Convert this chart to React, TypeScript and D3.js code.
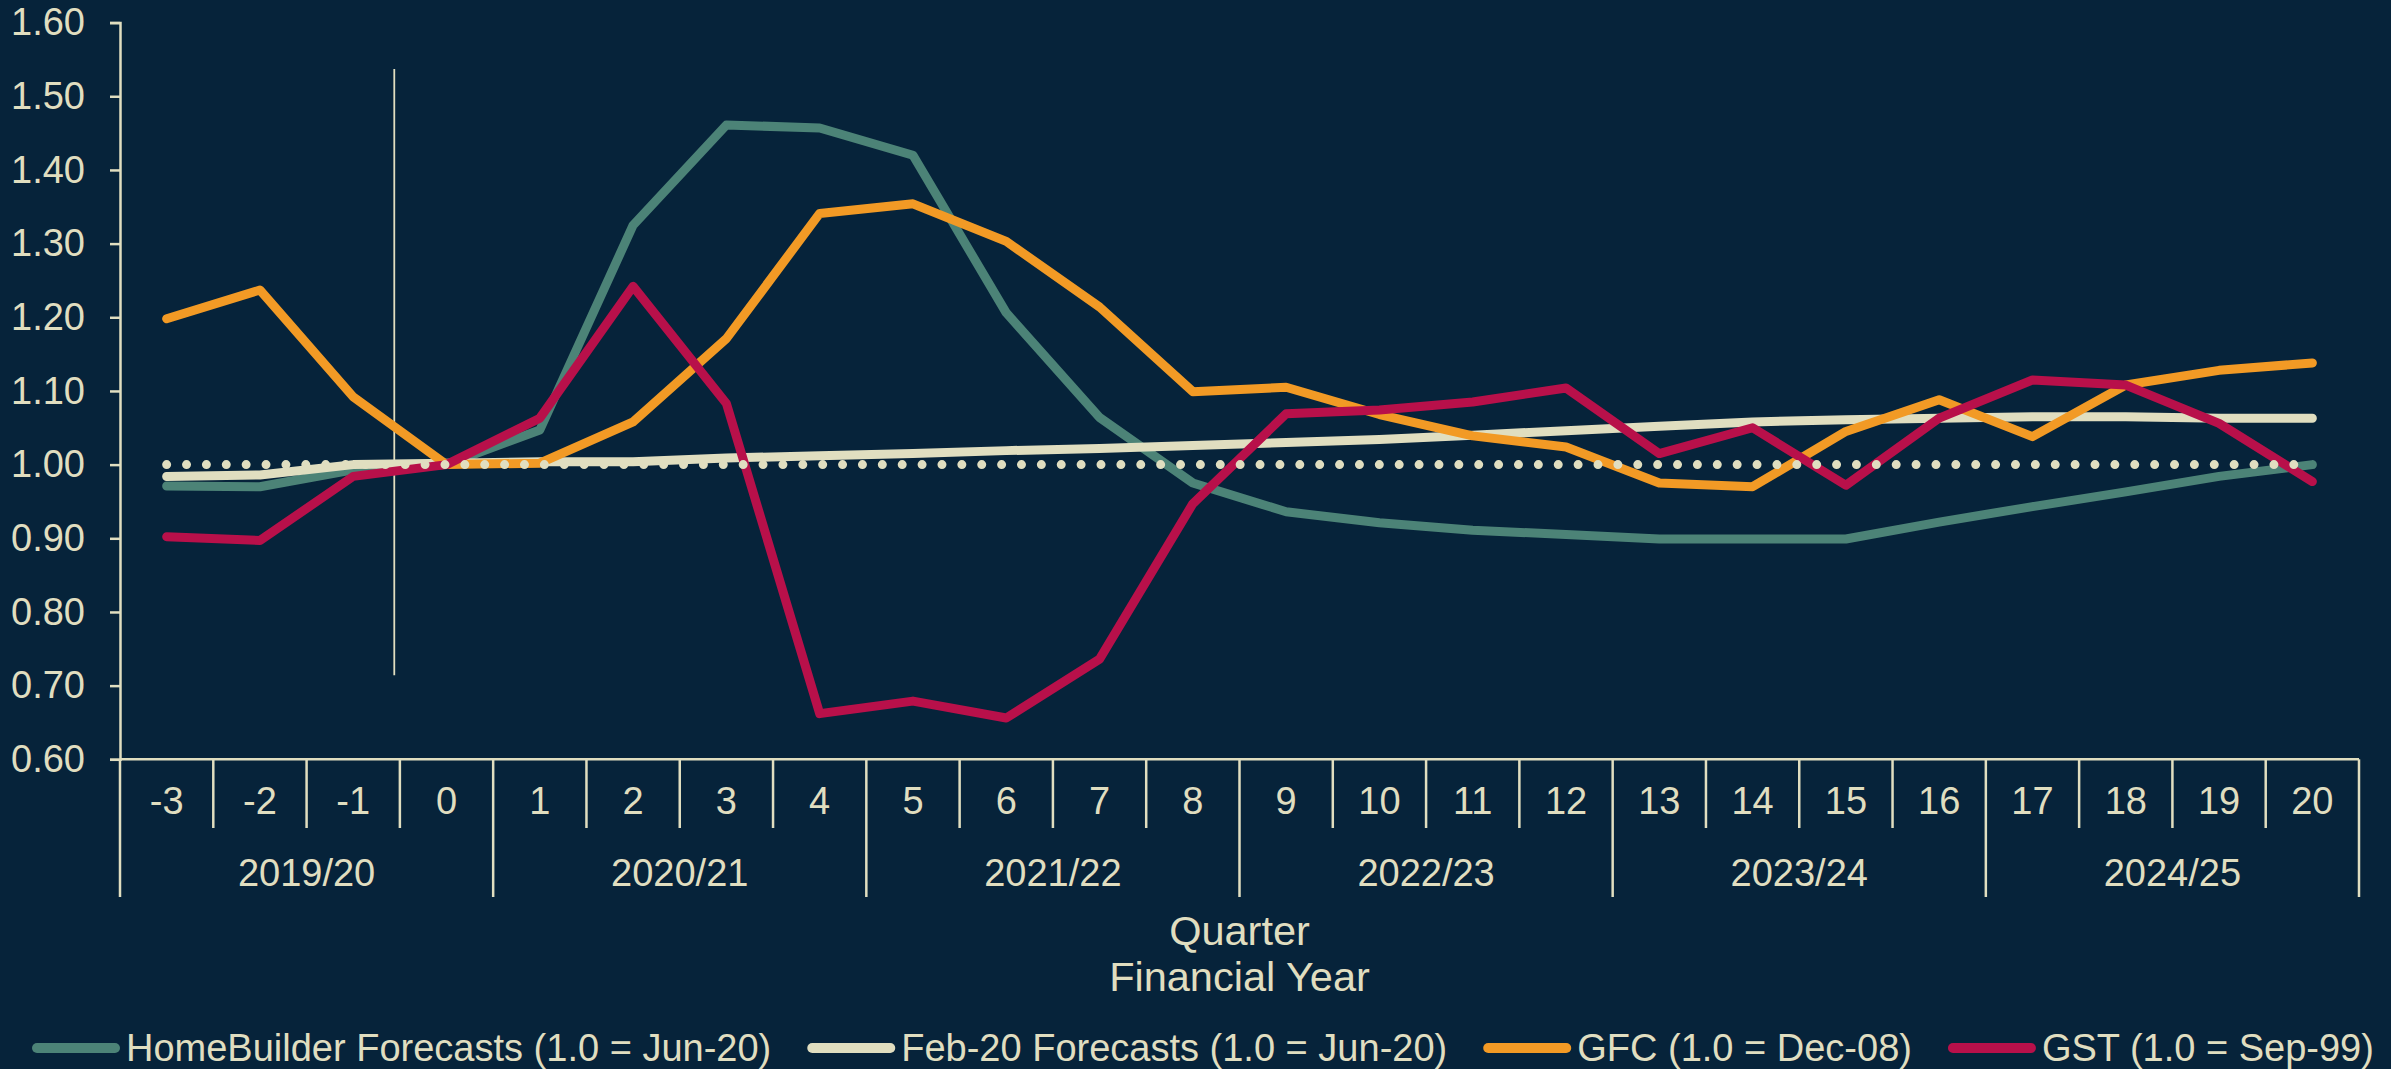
import React, { useRef, useEffect } from 'react';
import * as d3 from 'd3';

// quarter index relative to Jun-20 (0) and the financial years they fall in
const quarters = [-3, -2, -1, 0, 1, 2, 3, 4, 5, 6, 7, 8, 9, 10, 11, 12, 13, 14, 15, 16, 17, 18, 19, 20];
const financialYears = ['2019/20', '2020/21', '2021/22', '2022/23', '2023/24', '2024/25'];
const quartersPerYear = 4;

const yTicks = [0.6, 0.7, 0.8, 0.9, 1.0, 1.1, 1.2, 1.3, 1.4, 1.5, 1.6];

const homeBuilder = [0.971, 0.970, 0.993, 1.000, 1.047, 1.325, 1.461, 1.457, 1.420, 1.206, 1.064, 0.975, 0.936, 0.921, 0.911, 0.905, 0.899, 0.899, 0.899, 0.922, 0.943, 0.963, 0.984, 1.000];
const feb20 = [0.984, 0.986, 1.000, 1.002, 1.004, 1.004, 1.009, 1.012, 1.015, 1.019, 1.022, 1.026, 1.030, 1.034, 1.040, 1.046, 1.052, 1.058, 1.061, 1.063, 1.065, 1.065, 1.063, 1.063];
const gfc = [1.198, 1.237, 1.092, 1.000, 1.002, 1.058, 1.171, 1.341, 1.354, 1.303, 1.214, 1.099, 1.105, 1.068, 1.039, 1.024, 0.975, 0.970, 1.045, 1.088, 1.038, 1.108, 1.128, 1.138];
const gst = [0.902, 0.897, 0.984, 1.000, 1.063, 1.242, 1.083, 0.662, 0.679, 0.656, 0.736, 0.947, 1.069, 1.074, 1.085, 1.104, 1.015, 1.050, 0.972, 1.063, 1.115, 1.108, 1.056, 0.977];

const baseline = 1.0;
// thin vertical marker just before quarter 0
const markerQuarter = -0.56;
const markerRange = [0.714, 1.537];

const seriesNames = [
  'HomeBuilder Forecasts (1.0 = Jun-20)',
  'Feb-20 Forecasts (1.0 = Jun-20)',
  'GFC (1.0 = Dec-08)',
  'GST (1.0 = Sep-99)',
];
const seriesValues = [homeBuilder, feb20, gfc, gst];
const seriesColors = ['#4C8377', '#E0DEC0', '#F29A25', '#B8104A'];

const BG = '#06233A';
const INK = '#E0DEC0';
const FONT = '"Liberation Sans", Arial, sans-serif';

const App = () => {
  const svgRef = useRef<SVGSVGElement>(null);
  const width = 2391;
  const height = 1069;

  useEffect(() => {
    const svg = d3.select(svgRef.current).html('');

    svg.append('rect').attr('width', width).attr('height', height).attr('fill', BG);

    // --- Scales ---
    const x = d3.scaleBand<string>()
      .domain(quarters.map(String))
      .range([120, 2359])
      .padding(0);
    const cx = (q: number) => (x(String(q)) as number) + x.bandwidth() / 2;
    const y = d3.scaleLinear().domain([0.6, 1.6]).range([759.3, 22.6]);
    const plotBottom = y(0.6);

    // --- Y axis ---
    const yAxis = d3.axisLeft(y)
      .tickValues(yTicks)
      .tickSize(10)
      .tickPadding(25)
      .tickFormat(d3.format('.2f'));
    const gy = svg.append('g').attr('transform', 'translate(120,0)').call(yAxis);
    gy.select('.domain').attr('stroke', INK).attr('stroke-width', 2.5);
    gy.selectAll('.tick line').attr('stroke', INK).attr('stroke-width', 2.5);
    gy.selectAll('.tick text')
      .attr('fill', INK)
      .style('font-family', FONT)
      .style('font-size', '38px');

    // --- X axis (quarter + financial year) ---
    const gx = svg.append('g');
    gx.append('line')
      .attr('x1', x.range()[0]).attr('x2', x.range()[1])
      .attr('y1', plotBottom).attr('y2', plotBottom)
      .attr('stroke', INK).attr('stroke-width', 2.5);

    const bounds = d3.range(quarters.length + 1);
    gx.selectAll('line.sep')
      .data(bounds)
      .join('line')
      .attr('class', 'sep')
      .attr('x1', (i) => x.range()[0] + i * x.step())
      .attr('x2', (i) => x.range()[0] + i * x.step())
      .attr('y1', plotBottom)
      .attr('y2', (i) => (i % quartersPerYear === 0 ? 897 : 828))
      .attr('stroke', INK)
      .attr('stroke-width', 2.5);

    gx.selectAll('text.q')
      .data(quarters)
      .join('text')
      .attr('class', 'q')
      .attr('x', (q) => cx(q))
      .attr('y', 801)
      .attr('dy', '0.35em')
      .attr('text-anchor', 'middle')
      .attr('fill', INK)
      .style('font-family', FONT)
      .style('font-size', '38px')
      .text((q) => String(q));

    gx.selectAll('text.fy')
      .data(financialYears)
      .join('text')
      .attr('class', 'fy')
      .attr('x', (_, i) => x.range()[0] + (i + 0.5) * quartersPerYear * x.step())
      .attr('y', 873)
      .attr('dy', '0.35em')
      .attr('text-anchor', 'middle')
      .attr('fill', INK)
      .style('font-family', FONT)
      .style('font-size', '38px')
      .text((d) => d);

    const midX = (x.range()[0] + x.range()[1]) / 2;
    ['Quarter', 'Financial Year'].forEach((t, i) => {
      svg.append('text')
        .attr('x', midX)
        .attr('y', 930 + i * 46)
        .attr('dy', '0.35em')
        .attr('text-anchor', 'middle')
        .attr('fill', INK)
        .style('font-family', FONT)
        .style('font-size', '41.5px')
        .text(t);
    });

    // --- Vertical marker ---
    const markerX = cx(-1) + (markerQuarter - -1) * x.step();
    svg.append('line')
      .attr('x1', markerX).attr('x2', markerX)
      .attr('y1', y(markerRange[0])).attr('y2', y(markerRange[1]))
      .attr('stroke', INK)
      .attr('stroke-width', 1.8);

    // --- Lines ---
    const line = d3.line<number>()
      .x((_, i) => cx(quarters[i]))
      .y((d) => y(d));

    seriesValues.forEach((vals, i) => {
      svg.append('path')
        .datum(vals)
        .attr('fill', 'none')
        .attr('stroke', seriesColors[i])
        .attr('stroke-width', 9)
        .attr('stroke-linecap', 'round')
        .attr('stroke-linejoin', 'round')
        .attr('d', line);
    });

    // dotted 1.0 reference
    svg.append('line')
      .attr('x1', cx(quarters[0]))
      .attr('x2', cx(quarters[quarters.length - 1]))
      .attr('y1', y(baseline))
      .attr('y2', y(baseline))
      .attr('stroke', INK)
      .attr('stroke-width', 9)
      .attr('stroke-linecap', 'round')
      .attr('stroke-dasharray', '0 19.88');

    // --- Legend ---
    const legend = svg.append('g').attr('transform', 'translate(0,1048)');
    let lx = 32;
    seriesNames.forEach((name, i) => {
      legend.append('line')
        .attr('x1', lx + 5).attr('x2', lx + 83)
        .attr('y1', 0).attr('y2', 0)
        .attr('stroke', seriesColors[i])
        .attr('stroke-width', 10)
        .attr('stroke-linecap', 'round');
      const t = legend.append('text')
        .attr('x', lx + 94)
        .attr('y', 0)
        .attr('dy', '0.35em')
        .attr('fill', INK)
        .style('font-family', FONT)
        .style('font-size', '38px')
        .text(name);
      const w = (t.node() as SVGTextElement).getComputedTextLength();
      lx += 94 + w + 36;
    });
  }, []);

  return (
    <svg
      ref={svgRef}
      width={width}
      height={height}
      style={{ position: 'absolute', left: 0, top: 0, display: 'block' }}
    />
  );
};

export default App;
